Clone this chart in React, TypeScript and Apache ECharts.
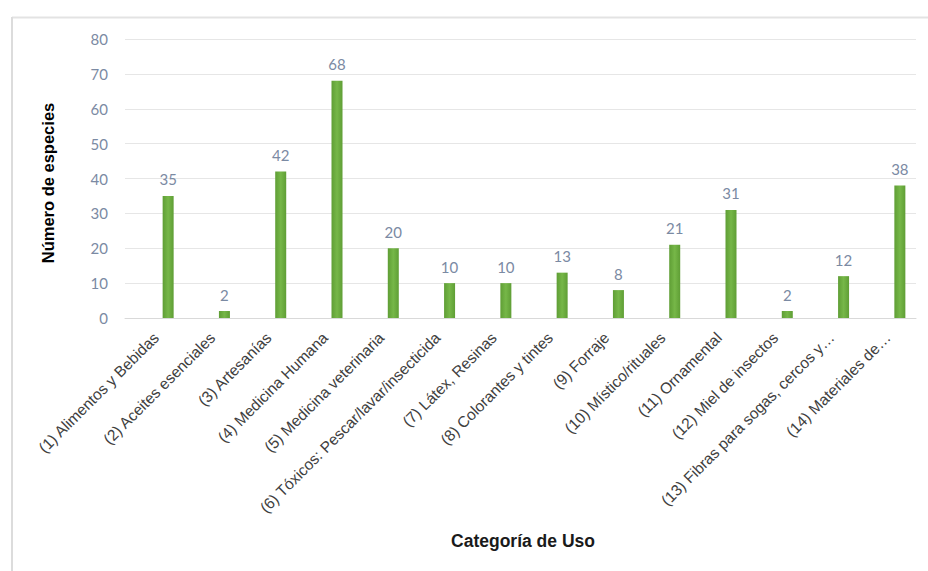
import React, { useEffect, useRef } from "react";
import * as echarts from "echarts";

const categories = [
  "(1) Alimentos y Bebidas",
  "(2) Aceites esenciales",
  "(3) Artesanías",
  "(4) Medicina Humana",
  "(5) Medicina veterinaria",
  "(6) Tóxicos: Pescar/lavar/insecticida",
  "(7) Látex, Resinas",
  "(8) Colorantes y tintes",
  "(9) Forraje",
  "(10) Místico/rituales",
  "(11) Ornamental",
  "(12) Miel de insectos",
  "(13) Fibras para sogas, cercos y…",
  "(14) Materiales de…",
];
const values = [35, 2, 42, 68, 20, 10, 10, 13, 8, 21, 31, 2, 12, 38];
const yTicks = { min: 0, max: 80, interval: 10 };
const yTitle = "Número de especies";
const xTitle = "Categoría de Uso";

export default function App() {
  const ref = useRef<HTMLDivElement>(null);
  useEffect(() => {
    if (!ref.current) return;
    const chart = echarts.init(ref.current, undefined, { renderer: "svg" });
    const top = 39;
    const bottom = 571 - 318;
    const labelColor = "#7b8aa3";
    chart.setOption({
      animation: false,
      backgroundColor: "#ffffff",
      grid: [
        { left: 140, right: -7, top, bottom },
        { left: 125, right: 12, top, bottom },
      ],
      xAxis: [
        {
          type: "category",
          gridIndex: 0,
          data: categories,
          axisLine: { show: false },
          axisTick: { show: false },
          axisLabel: {
            rotate: 45,
            interval: 0,
            margin: 5,
            padding: [0, 17, 0, 0],
            color: "#404040",
            fontFamily: "Liberation Sans, Arial, sans-serif",
            fontSize: 15.5,
          },
        },
        {
          type: "category",
          gridIndex: 1,
          data: categories,
          axisLine: { show: true, lineStyle: { color: "#d9d9d9", width: 1 } },
          axisTick: { show: false },
          axisLabel: { show: false },
        },
      ],
      yAxis: [
        {
          type: "value",
          gridIndex: 0,
          min: yTicks.min,
          max: yTicks.max,
          interval: yTicks.interval,
          axisLabel: { show: false },
          splitLine: { show: false },
          axisLine: { show: false },
          axisTick: { show: false },
        },
        {
          type: "value",
          gridIndex: 1,
          min: yTicks.min,
          max: yTicks.max,
          interval: yTicks.interval,
          axisLine: { show: false },
          axisTick: { show: false },
          axisLabel: {
            margin: 17,
            color: labelColor,
            fontFamily: "Lato, 'Open Sans', sans-serif",
            fontSize: 15,
          },
          splitLine: { show: true, lineStyle: { color: "#e6e6e6", width: 1 } },
        },
      ],
      series: [
        {
          type: "bar",
          xAxisIndex: 0,
          yAxisIndex: 0,
          data: values,
          barWidth: 11,
          itemStyle: {
            color: new echarts.graphic.LinearGradient(0, 0, 1, 0, [
              { offset: 0, color: "#5f9e35" },
              { offset: 0.5, color: "#76b748" },
              { offset: 1, color: "#5f9e35" },
            ]),
          },
          label: {
            show: true,
            position: "top",
            distance: 9,
            color: labelColor,
            fontFamily: "Lato, 'Open Sans', sans-serif",
            fontSize: 15,
          },
        },
      ],
      graphic: [
        {
          type: "line",
          shape: { x1: 12, y1: 17.5, x2: 928, y2: 17.5 },
          style: { stroke: "#e3e3e3", lineWidth: 2 },
        },
        {
          type: "line",
          shape: { x1: 12, y1: 17, x2: 12, y2: 571 },
          style: { stroke: "#dcdcdc", lineWidth: 2 },
        },
        {
          type: "text",
          x: 48,
          y: 183,
          rotation: Math.PI / 2,
          style: {
            text: yTitle,
            font: "bold 16.5px 'Liberation Sans', Arial, sans-serif",
            fill: "#000000",
            align: "center",
            verticalAlign: "middle",
          },
        },
        {
          type: "text",
          x: 523,
          y: 541,
          style: {
            text: xTitle,
            font: "bold 17.5px 'Liberation Sans', Arial, sans-serif",
            fill: "#1a1a1a",
            align: "center",
            verticalAlign: "middle",
          },
        },
      ],
    });
    return () => chart.dispose();
  }, []);
  return (
    <div
      ref={ref}
      style={{ position: "fixed", left: 0, top: 0, width: 928, height: 571 }}
    />
  );
}
